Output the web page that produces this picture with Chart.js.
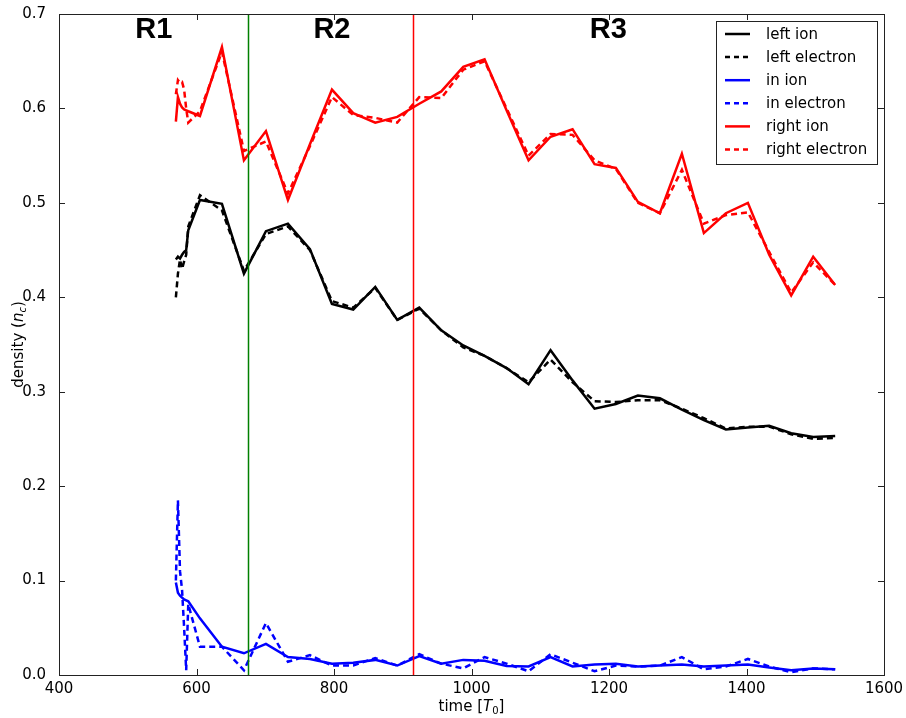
<!DOCTYPE html>
<html>
<head>
<meta charset="utf-8">
<script src="https://cdn.jsdelivr.net/npm/chart.js@4/dist/chart.umd.min.js"></script>
<style>
html, body { margin: 0; padding: 0; background: #fff; }
</style>
</head>
<body>
<canvas id="chart" width="906" height="718"></canvas>
<script>
const times = [570, 573, 576, 579, 582, 585, 588, 605, 637, 669, 701, 733, 765, 797, 828, 860, 892, 924, 956, 988, 1019, 1051, 1083, 1115, 1147, 1179, 1210, 1242, 1274, 1306, 1338, 1370, 1402, 1433, 1465, 1497, 1529];

const leftIon = [0.440, 0.443, 0.441, 0.445, 0.448, 0.450, 0.471, 0.503, 0.499, 0.425, 0.470, 0.478, 0.451, 0.393, 0.387, 0.411, 0.376, 0.389, 0.365, 0.349, 0.338, 0.325, 0.308, 0.344, 0.312, 0.282, 0.287, 0.296, 0.293, 0.281, 0.270, 0.260, 0.262, 0.264, 0.256, 0.252, 0.253];
const leftElectron = [0.400, 0.425, 0.440, 0.430, 0.438, 0.445, 0.475, 0.508, 0.492, 0.428, 0.467, 0.475, 0.450, 0.396, 0.389, 0.410, 0.376, 0.388, 0.365, 0.347, 0.338, 0.325, 0.310, 0.334, 0.310, 0.290, 0.289, 0.291, 0.291, 0.282, 0.272, 0.261, 0.263, 0.263, 0.255, 0.250, 0.251];
const inIon = [0.098, 0.087, 0.084, 0.082, 0.080, 0.079, 0.078, 0.060, 0.030, 0.023, 0.033, 0.019, 0.017, 0.012, 0.013, 0.016, 0.010, 0.020, 0.012, 0.016, 0.015, 0.0095, 0.009, 0.019, 0.009, 0.011, 0.012, 0.009, 0.010, 0.011, 0.009, 0.010, 0.011, 0.008, 0.005, 0.007, 0.006];
const inElectron = [0.100, 0.185, 0.110, 0.090, 0.050, 0.005, 0.075, 0.030, 0.030, 0.005, 0.055, 0.014, 0.021, 0.010, 0.010, 0.018, 0.010, 0.022, 0.012, 0.007, 0.019, 0.012, 0.004, 0.022, 0.013, 0.004, 0.010, 0.009, 0.010, 0.019, 0.006, 0.009, 0.017, 0.009, 0.003, 0.007, 0.006];
const rightIon = [0.586, 0.612, 0.605, 0.601, 0.599, 0.598, 0.597, 0.592, 0.665, 0.545, 0.576, 0.503, 0.562, 0.620, 0.595, 0.585, 0.591, 0.605, 0.618, 0.644, 0.652, 0.598, 0.545, 0.570, 0.578, 0.541, 0.537, 0.501, 0.489, 0.552, 0.468, 0.489, 0.500, 0.445, 0.402, 0.443, 0.413];
const rightElectron = [0.615, 0.630, 0.627, 0.628, 0.620, 0.600, 0.585, 0.597, 0.660, 0.555, 0.565, 0.510, 0.560, 0.612, 0.593, 0.590, 0.585, 0.612, 0.611, 0.641, 0.650, 0.600, 0.550, 0.573, 0.572, 0.545, 0.536, 0.500, 0.489, 0.535, 0.478, 0.487, 0.490, 0.448, 0.405, 0.437, 0.413];

const seriesNames = ['left ion', 'left electron', 'in ion', 'in electron', 'right ion', 'right electron'];
const seriesColors = ['#000000', '#000000', '#0000ff', '#0000ff', '#ff0000', '#ff0000'];
const seriesDashed = [false, true, false, true, false, true];

// region boundaries and labels
const boundaryTimes = [675, 915];
const boundaryColors = ['#008000', '#ff0000'];
const regionNames = ['R1', 'R2', 'R3'];
const regionLabelTimes = [538, 797, 1199];
const regionLabelDensity = 0.683;

const xTicks = [400, 600, 800, 1000, 1200, 1400, 1600];
const yTicks = [0.0, 0.1, 0.2, 0.3, 0.4, 0.5, 0.6, 0.7];

const FONT = '"DejaVu Sans", sans-serif';
const DASH = [6, 4];

const allSeries = [leftIon, leftElectron, inIon, inElectron, rightIon, rightElectron];

const datasets = allSeries.map((vals, i) => ({
    label: seriesNames[i],
    data: vals.map((v, j) => ({ x: times[j], y: v })),
    borderColor: seriesColors[i],
    backgroundColor: seriesColors[i],
    borderWidth: 2.5,
    borderDash: seriesDashed[i] ? DASH : [],
    pointRadius: 0,
    tension: 0,
    fill: false
}));

const decorPlugin = {
    id: 'decor',
    afterDatasetsDraw(chart) {
        const { ctx, chartArea: { left, right, top, bottom }, scales: { x, y } } = chart;
        ctx.save();

        // vertical boundary lines
        boundaryTimes.forEach((t, i) => {
            const px = Math.round(x.getPixelForValue(t)) + 0.5;
            ctx.beginPath();
            ctx.strokeStyle = boundaryColors[i];
            ctx.lineWidth = 1.5;
            ctx.moveTo(px, top);
            ctx.lineTo(px, bottom);
            ctx.stroke();
        });

        // frame
        ctx.strokeStyle = '#222';
        ctx.lineWidth = 1;
        ctx.strokeRect(Math.round(left) + 0.5, Math.round(top) + 0.5, Math.round(right - left), Math.round(bottom - top));

        // ticks pointing inward, on all four sides
        const tl = 6;
        ctx.beginPath();
        xTicks.forEach(t => {
            const px = Math.round(x.getPixelForValue(t)) + 0.5;
            ctx.moveTo(px, bottom); ctx.lineTo(px, bottom - tl);
            ctx.moveTo(px, top); ctx.lineTo(px, top + tl);
        });
        yTicks.forEach(v => {
            const py = Math.round(y.getPixelForValue(v)) + 0.5;
            ctx.moveTo(left, py); ctx.lineTo(left + tl, py);
            ctx.moveTo(right, py); ctx.lineTo(right - tl, py);
        });
        ctx.stroke();

        // region labels
        ctx.fillStyle = '#000';
        ctx.font = 'bold 29px "Liberation Sans", Arial, sans-serif';
        ctx.textAlign = 'center';
        ctx.textBaseline = 'middle';
        regionNames.forEach((name, i) => {
            ctx.fillText(name, x.getPixelForValue(regionLabelTimes[i]), y.getPixelForValue(regionLabelDensity));
        });

        // legend box
        const lx = 716, ly = 21, lw = 161, lh = 143;
        ctx.fillStyle = '#fff';
        ctx.fillRect(lx, ly, lw, lh);
        ctx.strokeStyle = '#222';
        ctx.lineWidth = 1;
        ctx.strokeRect(lx + 0.5, ly + 0.5, lw, lh);
        ctx.font = '15px ' + FONT;
        ctx.textAlign = 'left';
        ctx.textBaseline = 'middle';
        seriesNames.forEach((name, i) => {
            const ry = 34 + i * 23.1;
            ctx.beginPath();
            ctx.strokeStyle = seriesColors[i];
            ctx.lineWidth = 2.5;
            ctx.setLineDash(seriesDashed[i] ? [5, 4] : []);
            ctx.moveTo(725, ry);
            ctx.lineTo(750, ry);
            ctx.stroke();
            ctx.setLineDash([]);
            ctx.fillStyle = '#000';
            ctx.fillText(name, 766, ry + 1);
        });

        // x axis title: time [T_0]
        ctx.fillStyle = '#000';
        ctx.textBaseline = 'alphabetic';
        const xt = [['time [', '15px ' + FONT, 0], ['T', 'italic 15px ' + FONT, 0], ['0', '10px ' + FONT, 3], [']', '15px ' + FONT, 0]];
        drawRich(ctx, xt, (left + right) / 2, 711);

        // y axis title: density (n_c)
        ctx.save();
        ctx.translate(23, (top + bottom) / 2);
        ctx.rotate(-Math.PI / 2);
        const yt = [['density (', '15px ' + FONT, 0], ['n', 'italic 15px ' + FONT, 0], ['c', 'italic 10px ' + FONT, 3], [')', '15px ' + FONT, 0]];
        drawRich(ctx, yt, 0, 0);
        ctx.restore();

        ctx.restore();
    }
};

function drawRich(ctx, parts, cx, baseY) {
    let total = 0;
    parts.forEach(([txt, font]) => { ctx.font = font; total += ctx.measureText(txt).width; });
    let xx = cx - total / 2;
    ctx.textAlign = 'left';
    parts.forEach(([txt, font, dy]) => {
        ctx.font = font;
        ctx.fillText(txt, xx, baseY + dy);
        xx += ctx.measureText(txt).width;
    });
}

new Chart(document.getElementById('chart'), {
    type: 'line',
    data: { datasets: datasets },
    options: {
        responsive: false,
        animation: false,
        events: [],
        layout: { padding: { top: 14, right: 22, left: 0, bottom: 0 } },
        plugins: {
            legend: { display: false },
            tooltip: { enabled: false }
        },
        scales: {
            x: {
                type: 'linear',
                min: 400,
                max: 1600,
                afterBuildTicks: (s) => { s.ticks = xTicks.map(v => ({ value: v })); },
                afterFit: (s) => { s.height = 43; },
                grid: { display: false },
                border: { display: false },
                ticks: {
                    color: '#000',
                    font: { family: FONT, size: 15 },
                    padding: -3,
                    maxRotation: 0,
                    callback: (v) => String(v)
                }
            },
            y: {
                min: 0,
                max: 0.7,
                afterBuildTicks: (s) => { s.ticks = yTicks.map(v => ({ value: v })); },
                afterFit: (s) => { s.width = 59; },
                grid: { display: false },
                border: { display: false },
                ticks: {
                    color: '#000',
                    font: { family: FONT, size: 15 },
                    padding: 5,
                    callback: (v) => Number(v).toFixed(1)
                }
            }
        }
    },
    plugins: [decorPlugin]
});
</script>
</body>
</html>
